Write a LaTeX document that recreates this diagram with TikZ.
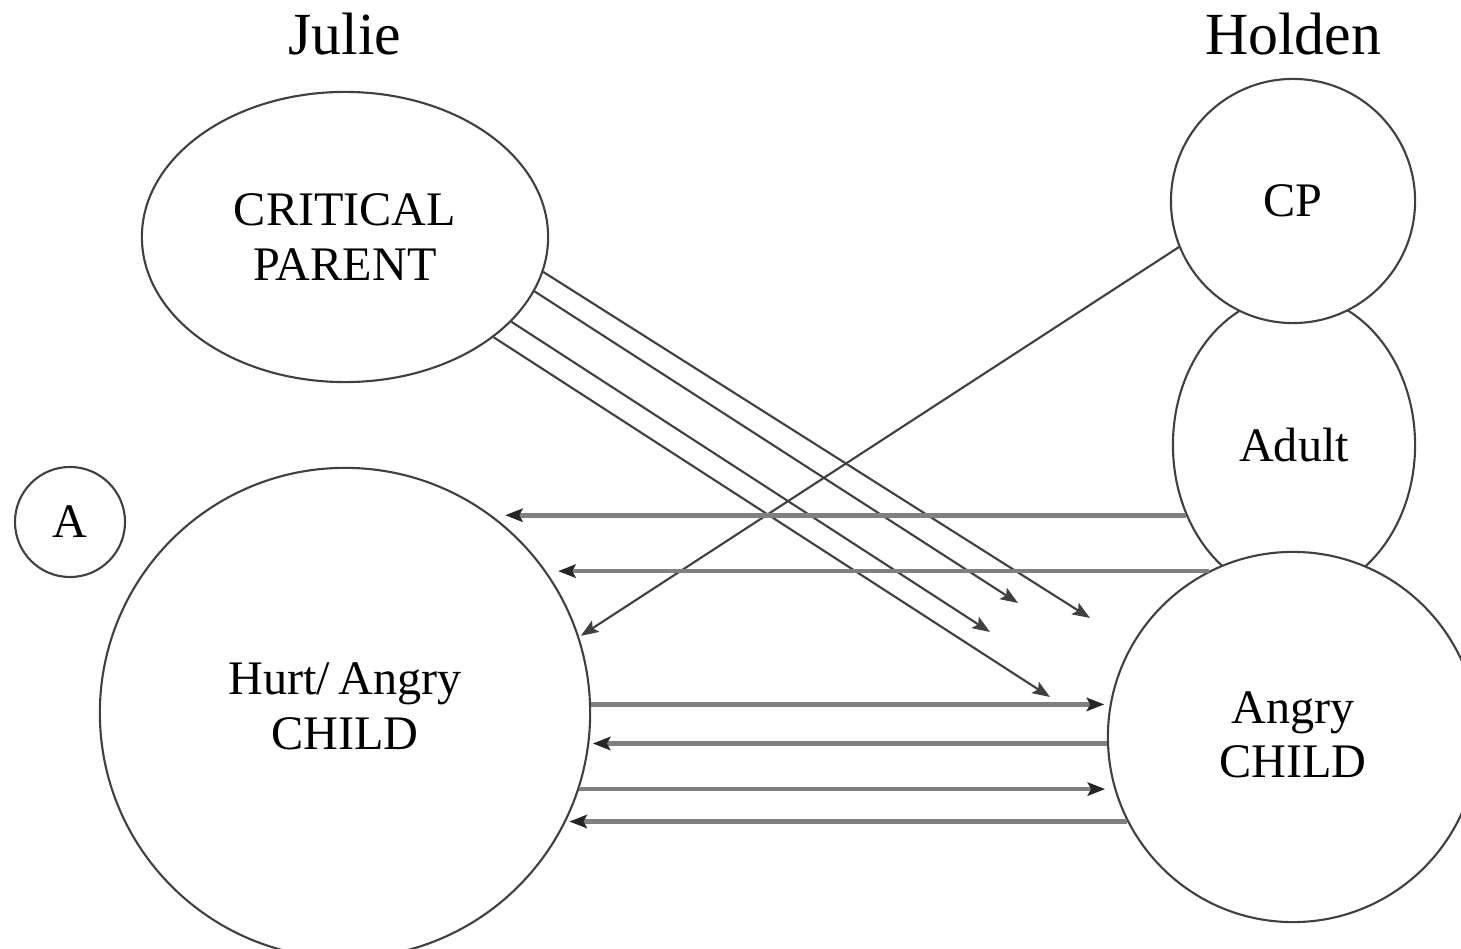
\documentclass[tikz,border=0pt]{standalone}
\usepackage{fontspec}
\setmainfont{Liberation Serif}
\usetikzlibrary{shapes.geometric,arrows.meta}

\begin{document}
\begin{tikzpicture}[x=0.01cm,y=-0.01cm,
  ego/.style={draw=black!75,line width=0.6pt,fill=white,inner sep=0pt,align=center,
    font=\fontsize{13.7}{15.5}\selectfont},
  side/.style={font=\fontsize{17}{20}\selectfont,anchor=base},
  slant/.style={draw=black!75,line width=0.6pt,-{Stealth[length=5pt,width=3.8pt,inset=1pt]}},
  flat/.style={draw=black!50,line width=1.3pt,-{Stealth[length=5pt,width=3.8pt,inset=1pt,color=black!85]}}]
  \useasboundingbox (0,0) rectangle (1461,949);
  \node[side] (julie) at (345,55) {Julie};
  \node[side] (holden) at (1293,55) {Holden};
  \node[ego,ellipse,minimum width=4.06cm,minimum height=2.9cm] (cparent) at (345,237) {CRITICAL\\PARENT};
  \node[ego,circle,minimum size=1.1cm] (a) at (70,522) {A};
  \node[ego,circle,minimum size=4.9cm,text depth=0.14cm] (hurt) at (345,713) {Hurt/\,Angry\\CHILD};
  \node[ego,ellipse,minimum width=2.42cm,minimum height=3.0cm] (adult) at (1294,445) {Adult};
  \node[ego,circle,minimum size=2.44cm] (cp) at (1293,201) {CP};
  \node[ego,circle,minimum size=3.7cm,text depth=0.05cm] (angry) at (1293,737) {Angry\\CHILD};
  \coordinate (hit1) at (1090,618);
  \coordinate (hit2) at (1018,603);
  \coordinate (hit3) at (990,632);
  \coordinate (hit4) at (1050,697);
  \draw[slant] (cparent.350.1) -- (hit1);
  \draw[slant] (cparent.344.6) -- (hit2);
  \draw[slant] (cparent.333.2) -- (hit3);
  \draw[slant] (cparent.326.7) -- (hit4);
  \draw[slant,shorten >=0.02cm] (cp.202.8) -- (hurt.18.8);
  \draw[flat,shorten >=0.12cm] (adult.213.4) -- (adult.213.4 -| hurt.53.1);
  \draw[flat,shorten >=0.09cm] (angry.117.6) -- (angry.117.6 -| hurt.34.9);
  \draw[flat,shorten >=0.06cm] (hurt.2.3) -- (hurt.2.3 -| angry.169.4);
  \draw[flat,shorten >=0.04cm] (angry.182.5) -- (angry.182.5 -| hurt.352.5);
  \draw[flat,shorten >=0.08cm] (hurt.342.7) -- (hurt.342.7 -| angry.195.4);
  \draw[flat,shorten >=0.05cm] (angry.207) -- (angry.207 -| hurt.333.8);
\end{tikzpicture}
\end{document}
